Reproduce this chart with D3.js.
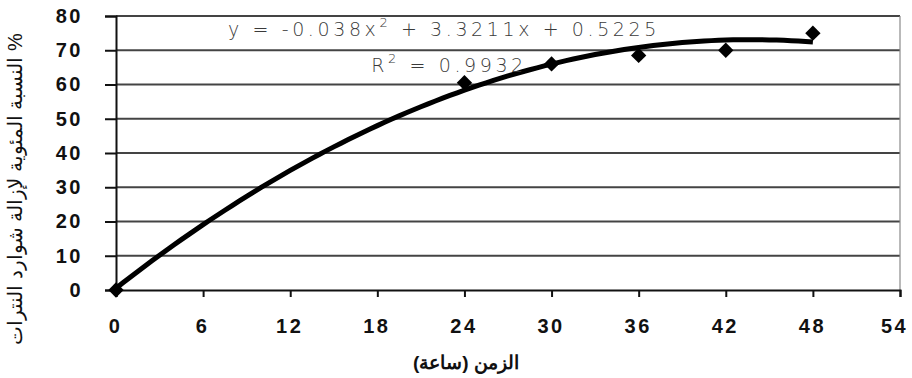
<!DOCTYPE html>
<html>
<head>
<meta charset="utf-8">
<script src="https://cdn.jsdelivr.net/npm/d3@7"></script>
<style>
  html, body { margin: 0; padding: 0; background: #fff; }
  svg { display: block; }
</style>
</head>
<body>
<svg id="chart" width="912" height="378"></svg>
<script>
// Measured removal of nitrate ions over time
const hours = [0, 24, 30, 36, 42, 48];
const removal = [0, 60.5, 66, 68.5, 70, 75];

// Quadratic trendline coefficients: y = a x^2 + b x + c
const trendCoeffs = [-0.038, 3.3211, 0.5225];
const rSquared = "0.9932";

const xTicks = [0, 6, 12, 18, 24, 30, 36, 42, 48, 54];
const yTicks = [0, 10, 20, 30, 40, 50, 60, 70, 80];

const xTitle = "الزمن (ساعة)";
const yTitle = "النسبة المئوية لإزالة شوارد النترات %";

(function draw() {
  const svg = d3.select("#chart");
  const plotLeft = 116, plotRight = 900, plotTop = 16, plotBottom = 290;

  const x = d3.scaleLinear().domain([0, 54]).range([plotLeft, plotRight]);
  const y = d3.scaleLinear().domain([0, 80]).range([plotBottom, plotTop]);

  // Horizontal gridlines
  svg.append("g")
    .selectAll("line")
    .data(yTicks.filter(d => d > 0))
    .join("line")
    .attr("x1", plotLeft).attr("x2", plotRight)
    .attr("y1", d => y(d)).attr("y2", d => y(d))
    .attr("stroke", "#444")
    .attr("stroke-width", 2);

  // Right border of plot area
  svg.append("line")
    .attr("x1", plotRight).attr("x2", plotRight)
    .attr("y1", plotTop).attr("y2", plotBottom)
    .attr("stroke", "#8a8a8a")
    .attr("stroke-width", 1.2);

  // Axes
  const xAxis = d3.axisBottom(x).tickValues(xTicks).tickSize(7).tickPadding(22).tickFormat(d3.format("d"));
  const yAxis = d3.axisLeft(y).tickValues(yTicks).tickSize(11).tickPadding(22).tickFormat(d3.format("d"));

  const gx = svg.append("g").attr("transform", `translate(0,${plotBottom})`).call(xAxis);
  const gy = svg.append("g").attr("transform", `translate(${plotLeft},0)`).call(yAxis);

  [gx, gy].forEach(g => {
    g.select(".domain").attr("stroke", "#111").attr("stroke-width", 2);
    g.selectAll(".tick line").attr("stroke", "#111").attr("stroke-width", 2);
    g.selectAll(".tick text")
      .attr("fill", "#111")
      .style("font-family", "Arial, 'Liberation Sans', sans-serif")
      .style("font-size", "20px")
      .style("font-weight", "bold")
      .style("letter-spacing", "2.5px");
  });
  gx.selectAll(".tick text")
    .attr("dx", d => d === 54 ? "-6px" : "-1px");
  gy.selectAll(".tick text").attr("dx", "0px");

  // Trendline from the fitted equation
  const [a, b, c] = trendCoeffs;
  const trendX = d3.range(0, 48.01, 0.5);
  const line = d3.line()
    .x(d => x(d))
    .y(d => y(a * d * d + b * d + c));
  svg.append("path")
    .datum(trendX)
    .attr("d", line)
    .attr("fill", "none")
    .attr("stroke", "#000")
    .attr("stroke-width", 5)
    .attr("stroke-linejoin", "round");

  // Data markers (diamonds)
  svg.append("g")
    .selectAll("path")
    .data(hours.map((h, i) => [h, removal[i]]))
    .join("path")
    .attr("transform", d => `translate(${x(d[0])},${y(d[1])})`)
    .attr("d", d3.symbol().type(d3.symbolDiamond2).size(150))
    .attr("fill", "#000");

  // Equation labels
  const eqFont = "'DejaVu Sans', sans-serif";
  const eq = svg.append("text")
    .attr("x", 444).attr("y", 36)
    .attr("text-anchor", "middle")
    .attr("fill", "#3a3a3a")
    .style("font-family", eqFont)
    .style("font-size", "19px")
    .style("font-weight", "200")
    .style("letter-spacing", "3.6px");
  eq.append("tspan").text("y = -0.038x");
  eq.append("tspan").attr("dy", -9).style("font-size", "13px").text("2");
  eq.append("tspan").attr("dy", 9).text(" + 3.3211x + 0.5225");

  const r2 = svg.append("text")
    .attr("x", 449).attr("y", 72)
    .attr("text-anchor", "middle")
    .attr("fill", "#3a3a3a")
    .style("font-family", eqFont)
    .style("font-size", "19px")
    .style("font-weight", "200")
    .style("letter-spacing", "3.6px");
  r2.append("tspan").text("R");
  r2.append("tspan").attr("dy", -9).style("font-size", "13px").text("2");
  r2.append("tspan").attr("dy", 9).text(" = " + rSquared);

  // Axis titles
  svg.append("text")
    .attr("x", 466).attr("y", 369)
    .attr("text-anchor", "middle")
    .attr("fill", "#111")
    .style("font-family", "Arial, 'Liberation Sans', sans-serif")
    .style("font-size", "19px")
    .style("font-weight", "bold")
    .text(xTitle);

  svg.append("text")
    .attr("transform", "translate(17,189) rotate(-90)")
    .attr("text-anchor", "middle")
    .attr("dominant-baseline", "middle")
    .attr("fill", "#111")
    .style("font-family", "Arial, 'Liberation Sans', sans-serif")
    .style("font-size", "20px")
    .text(yTitle);
})();
</script>
</body>
</html>
